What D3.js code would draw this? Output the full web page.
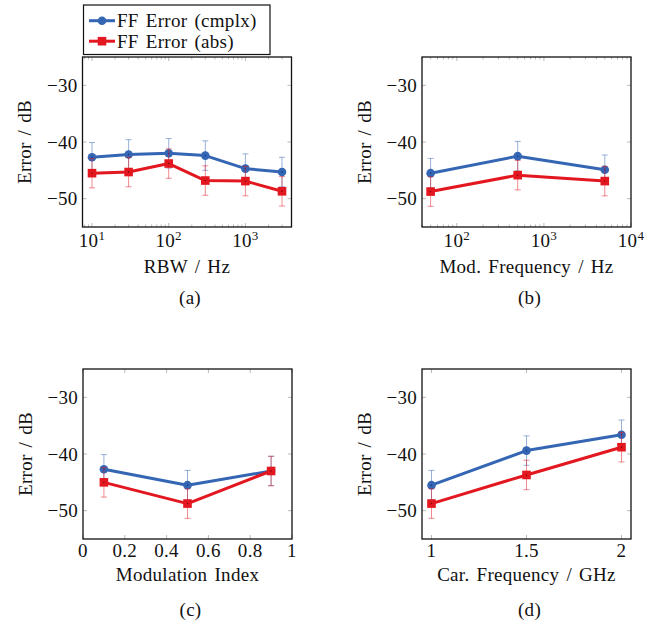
<!DOCTYPE html>
<html>
<head>
<meta charset="utf-8">
<script src="https://cdn.jsdelivr.net/npm/d3@7"></script>
<style>
  body { margin: 0; background: white; }
  svg text { font-family: "Liberation Serif", serif; fill: #111; letter-spacing: 0.3px; word-spacing: 2px; }
</style>
</head>
<body>
<svg id="chart" width="654" height="625"></svg>
<script>
// data
const rbw = [10, 30, 100, 300, 1000, 3000];
const rbwCmplx = [-42.7, -42.2, -42.0, -42.4, -44.7, -45.3];
const rbwAbs = [-45.5, -45.3, -43.8, -46.8, -46.9, -48.7];

const modFreq = [50, 500, 5000];
const modFreqCmplx = [-45.5, -42.5, -44.9];
const modFreqAbs = [-48.75, -45.85, -46.9];

const modIndex = [0.1, 0.5, 0.9];
const modIndexCmplx = [-42.7, -45.5, -43.0];
const modIndexAbs = [-45.0, -48.75, -43.0];

const carFreq = [1, 1.5, 2];
const carFreqCmplx = [-45.5, -39.4, -36.6];
const carFreqAbs = [-48.75, -43.7, -38.8];

const errBar = 2.6;
const yTicks = [-50, -40, -30];
const seriesNames = ["FF Error (cmplx)", "FF Error (abs)"];

const blue = "#3566b4";
const red = "#e3171f";
const tickGray = "#a8a8a8";
const fontSize = 19;

const svg = d3.select("#chart");

const panels = [
  {x: 82.5, y: 57, log: true, domain: [Math.pow(10, 0.876), Math.pow(10, 3.601)], ticks: [10, 100, 1000],
   xs: rbw, cmplx: rbwCmplx, abs: rbwAbs, label: "RBW / Hz", caption: "(a)"},
  {x: 422, y: 57, log: true, domain: [Math.pow(10, 1.6), 10000], ticks: [100, 1000, 10000],
   xs: modFreq, cmplx: modFreqCmplx, abs: modFreqAbs, label: "Mod. Frequency / Hz", caption: "(b)"},
  {x: 83, y: 369, log: false, domain: [0, 1], ticks: [0, 0.2, 0.4, 0.6, 0.8, 1],
   xs: modIndex, cmplx: modIndexCmplx, abs: modIndexAbs, label: "Modulation Index", caption: "(c)"},
  {x: 422, y: 369, log: false, domain: [0.95, 2.05], ticks: [1, 1.5, 2],
   xs: carFreq, cmplx: carFreqCmplx, abs: carFreqAbs, label: "Car. Frequency / GHz", caption: "(d)"}
];
const pw = 209, ph = 170;

function minorTicks(domain){
    let out = [];
    for (let e = -1; e < 6; e++) {
        for (let k = 2; k < 10; k++) {
            let v = k * Math.pow(10, e);
            if (v > domain[0] && v < domain[1]) out.push(v);
        }
    }
    return out;
}

function drawSeries(g, x, y, xs, ys, color, marker){
    let pts = xs.map((v, i) => [v, ys[i]]);

    // error bars (faded)
    let eb = g.append("g").attr("stroke", color).attr("stroke-opacity", 0.5).attr("stroke-width", 1);
    pts.forEach(d => {
        let cx = x(d[0]);
        eb.append("line").attr("x1", cx).attr("x2", cx).attr("y1", y(d[1] - errBar)).attr("y2", y(d[1] + errBar));
        [d[1] - errBar, d[1] + errBar].forEach(v => {
            eb.append("line").attr("x1", cx - 3).attr("x2", cx + 3).attr("y1", y(v)).attr("y2", y(v));
        });
    });

    g.append("path")
        .datum(pts)
        .attr("fill", "none")
        .attr("stroke", color)
        .attr("stroke-width", 3)
        .attr("stroke-linejoin", "round")
        .attr("d", d3.line().x(d => x(d[0])).y(d => y(d[1])));

    pts.forEach(d => {
        if (marker === "circle") {
            g.append("circle").attr("cx", x(d[0])).attr("cy", y(d[1])).attr("r", 4.3).attr("fill", color);
        } else {
            g.append("rect").attr("x", x(d[0]) - 4.3).attr("y", y(d[1]) - 4.3)
                .attr("width", 8.6).attr("height", 8.6).attr("fill", color);
        }
        g.append("circle").attr("cx", x(d[0])).attr("cy", y(d[1])).attr("r", 0.7)
            .attr("fill", marker === "circle" ? "#102a80" : "#700");
    });
}

panels.forEach(p => {
    let g = svg.append("g").attr("transform", `translate(${p.x},${p.y})`);
    let x = (p.log ? d3.scaleLog() : d3.scaleLinear()).domain(p.domain).range([0, pw]);
    let y = d3.scaleLinear().domain([-55, -25]).range([ph, 0]);

    // inner gray ticks on all four sides
    let tk = g.append("g").attr("stroke", tickGray).attr("stroke-width", 0.8);
    p.ticks.forEach(t => {
        tk.append("line").attr("x1", x(t)).attr("x2", x(t)).attr("y1", ph).attr("y2", ph - 4);
        tk.append("line").attr("x1", x(t)).attr("x2", x(t)).attr("y1", 0).attr("y2", 4);
    });
    if (p.log) {
        minorTicks(p.domain).forEach(t => {
            tk.append("line").attr("x1", x(t)).attr("x2", x(t)).attr("y1", ph).attr("y2", ph - 2.5);
            tk.append("line").attr("x1", x(t)).attr("x2", x(t)).attr("y1", 0).attr("y2", 2.5);
        });
    }
    yTicks.forEach(t => {
        tk.append("line").attr("x1", 0).attr("x2", 4).attr("y1", y(t)).attr("y2", y(t));
        tk.append("line").attr("x1", pw).attr("x2", pw - 4).attr("y1", y(t)).attr("y2", y(t));
    });

    // y tick labels
    yTicks.forEach(t => {
        g.append("text")
            .attr("x", -5).attr("y", y(t) + 6.5)
            .attr("text-anchor", "end")
            .attr("font-size", fontSize)
            .text("\u2212" + Math.abs(t));
    });

    // x tick labels
    p.ticks.forEach(t => {
        let txt = g.append("text")
            .attr("x", x(t)).attr("y", ph + (p.log ? 19.5 : 18))
            .attr("text-anchor", "middle")
            .attr("font-size", fontSize);
        if (p.log) {
            txt.append("tspan").text("10");
            txt.append("tspan").attr("dy", -7).attr("font-size", 13).text(Math.round(Math.log10(t)));
        } else {
            txt.text(t);
        }
    });

    drawSeries(g, x, y, p.xs, p.cmplx, blue, "circle");
    drawSeries(g, x, y, p.xs, p.abs, red, "square");

    g.append("rect")
        .attr("width", pw).attr("height", ph)
        .attr("fill", "none").attr("stroke", "#111").attr("stroke-width", 1.3);

    g.append("text")
        .attr("transform", `translate(${-58},${ph / 2}) rotate(-90)`)
        .attr("text-anchor", "middle")
        .attr("dominant-baseline", "central")
        .attr("font-size", fontSize)
        .text("Error / dB");

    g.append("text")
        .attr("x", pw / 2).attr("y", ph + (p.log ? 45.5 : 41.5))
        .attr("text-anchor", "middle")
        .attr("font-size", fontSize)
        .text(p.label);

    g.append("text")
        .attr("x", pw / 2 + 3).attr("y", ph + 77)
        .attr("text-anchor", "middle")
        .attr("font-size", fontSize)
        .text(p.caption);
});

// legend
let lg = svg.append("g");
lg.append("rect").attr("x", 83.5).attr("y", 5).attr("width", 186.5).attr("height", 49.5)
    .attr("fill", "white").attr("stroke", "#111").attr("stroke-width", 1.2);
seriesNames.forEach((name, i) => {
    let cy = 20.7 + i * 20.5;
    let color = i === 0 ? blue : red;
    lg.append("line").attr("x1", 89).attr("x2", 115).attr("y1", cy).attr("y2", cy)
        .attr("stroke", color).attr("stroke-width", 3);
    if (i === 0) lg.append("circle").attr("cx", 102).attr("cy", cy).attr("r", 4.3).attr("fill", color);
    else lg.append("rect").attr("x", 97.7).attr("y", cy - 4.3).attr("width", 8.6).attr("height", 8.6).attr("fill", color);
    lg.append("text").attr("x", 117).attr("y", cy + 6.5).attr("font-size", fontSize).text(name);
});
</script>
</body>
</html>
